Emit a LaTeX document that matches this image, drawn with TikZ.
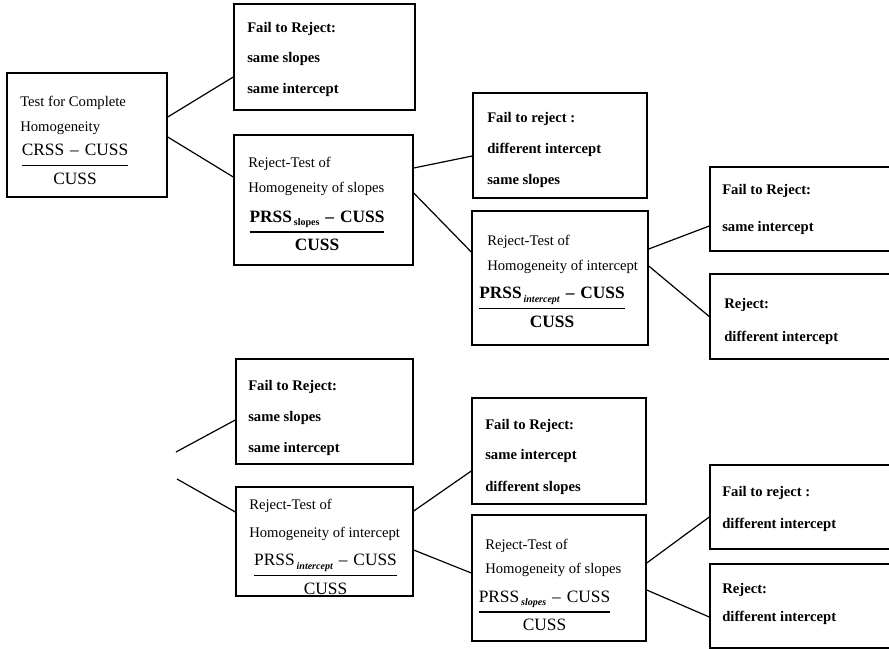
\documentclass[tikz,border=0pt]{standalone}
\usepackage{fontspec}
\setmainfont{Liberation Serif}
\usetikzlibrary{calc,fit}

% sub-index of a residual sum of squares
\newcommand\rssidx[1]{\hspace{1.5pt}\raisebox{-2.5pt}{\fontsize{7.5}{8}\selectfont\bfseries #1}}
\newcommand\rssidxit[1]{\hspace{1.5pt}\raisebox{-2.5pt}{\fontsize{7.5}{8}\selectfont\bfseries\itshape #1}}
\newcommand\dash{\hspace{4.5pt}–\hspace{4.5pt}}
% stacked ratio: numerator over a rule over denominator
\newcommand\ratio[2]{{\def\arraystretch{0}\setlength\arrayrulewidth{1.1pt}%
  \begin{tabular}{@{}c@{}}#1\rule[-6.75pt]{0pt}{6.75pt}\\\hline
  \rule{0pt}{13.5pt}#2\end{tabular}}}

\begin{document}
\begin{tikzpicture}[x=0.75pt,y=-0.75pt,
  box/.style={draw, line width=1.1pt, inner sep=0pt},
  link/.style={line width=0.9pt},
  txt/.style={anchor=base west, inner sep=0pt, font=\fontsize{11}{13}\selectfont},
  btxt/.style={anchor=base west, inner sep=0pt, font=\fontsize{11}{13}\selectfont\bfseries},
  ratiobox/.style={inner sep=0pt, font=\fontsize{13}{15}\selectfont}]
\useasboundingbox (0,0) rectangle (889,649);

% ---------- boxes ----------
\node[box, fit={(7,73) (167,197)}]    (A) {};
\node[box, fit={(234,4) (415,110)}]   (B) {};
\node[box, fit={(234,135) (413,265)}] (C) {};
\node[box, fit={(473,93) (647,198)}]  (D) {};
\node[box, fit={(472,211) (648,345)}] (E) {};
\node[box, fit={(710,167) (891,251)}] (F) {};
\node[box, fit={(710,274) (891,359)}] (G) {};

\node[box, fit={(236,359) (413,464)}] (H) {};
\node[box, fit={(236,487) (413,596)}] (I) {};
\node[box, fit={(472,398) (646,504)}] (J) {};
\node[box, fit={(472,515) (646,641)}] (K) {};
\node[box, fit={(710,465) (891,549)}] (L) {};
\node[box, fit={(710,564) (891,648)}] (M) {};

% ---------- texts: upper tree ----------
\node[txt] (a1) at (20,107) {Test for Complete};
\node[txt] (a2) at (20,132) {Homogeneity};
\node[ratiobox] (af) at (75,164.5) {\ratio{CRSS\dash CUSS}{CUSS}};

\node[btxt] (b1) at (247,33) {Fail to Reject:};
\node[btxt] (b2) at (247,63) {same slopes};
\node[btxt] (b3) at (247,94) {same intercept};

\node[txt] (c1) at (248,168) {Reject-Test of};
\node[txt] (c2) at (248,193) {Homogeneity of slopes};
\node[ratiobox, font=\fontsize{13}{15}\selectfont\bfseries] (cf) at (317,231)
  {\ratio{PRSS\rssidx{slopes}\dash CUSS}{CUSS}};

\node[btxt] (d1) at (487,123) {Fail to reject :};
\node[btxt] (d2) at (487,154) {different intercept};
\node[btxt] (d3) at (487,185) {same slopes};

\node[txt] (e1) at (487,245) {Reject-Test of};
\node[txt] (e2) at (487,270) {Homogeneity of intercept};
\node[ratiobox, font=\fontsize{13}{15}\selectfont\bfseries] (ef) at (552,307.5)
  {\ratio{PRSS\rssidxit{intercept}\dash CUSS}{CUSS}};

\node[btxt] (f1) at (722,195) {Fail to Reject:};
\node[btxt] (f2) at (722,231) {same intercept};

\node[btxt] (g1) at (724,308) {Reject:};
\node[btxt] (g2) at (724,341) {different intercept};

% ---------- texts: lower tree ----------
\node[btxt] (h1) at (248,390) {Fail to Reject:};
\node[btxt] (h2) at (248,421) {same slopes};
\node[btxt] (h3) at (248,452) {same intercept};

\node[txt] (i1) at (249,509) {Reject-Test of};
\node[txt] (i2) at (249,537) {Homogeneity of intercept};
\node[ratiobox] (if) at (325.5,574.5)
  {\ratio{PRSS\rssidxit{intercept}\dash CUSS}{CUSS}};

\node[btxt] (j1) at (485,429) {Fail to Reject:};
\node[btxt] (j2) at (485,459) {same intercept};
\node[btxt] (j3) at (485,491) {different slopes};

\node[txt] (k1) at (485,549) {Reject-Test of};
\node[txt] (k2) at (485,573) {Homogeneity of slopes};
\node[ratiobox] (kf) at (544.5,611)
  {\ratio{PRSS\rssidxit{slopes}\dash CUSS}{CUSS}};

\node[btxt] (l1) at (722,496) {Fail to reject :};
\node[btxt] (l2) at (722,528) {different intercept};

\node[btxt] (m1) at (722,593) {Reject:};
\node[btxt] (m2) at (722,621) {different intercept};

% ---------- connectors ----------
\coordinate (h0) at (176,452);
\coordinate (i0) at (177,479);

\draw[link] ($(A.east)+(0,-18)$)   -- ($(B.west)+(0,20)$);
\draw[link] ($(A.east)+(0,2)$)     -- ($(C.west)+(0,-23)$);
\draw[link] ($(C.east)+(0,-32)$)   -- ($(D.west)+(0,10.5)$);
\draw[link] ($(C.east)+(0,-7)$)    -- ($(E.west)+(0,-26)$);
\draw[link] ($(E.east)+(0,-29)$)   -- ($(F.west)+(0,17)$);
\draw[link] ($(E.east)+(0,-12)$)   -- ($(G.west)+(0,0)$);

\draw[link] (h0) -- ($(H.west)+(0,8.5)$);
\draw[link] (i0) -- ($(I.west)+(0,-29.5)$);
\draw[link] ($(I.east)+(0,-30.5)$) -- ($(J.west)+(0,20)$);
\draw[link] ($(I.east)+(0,8.5)$)   -- ($(K.west)+(0,-5)$);
\draw[link] ($(K.east)+(0,-15)$)   -- ($(L.west)+(0,10)$);
\draw[link] ($(K.east)+(0,12)$)    -- ($(M.west)+(0,11)$);
\end{tikzpicture}
\end{document}
